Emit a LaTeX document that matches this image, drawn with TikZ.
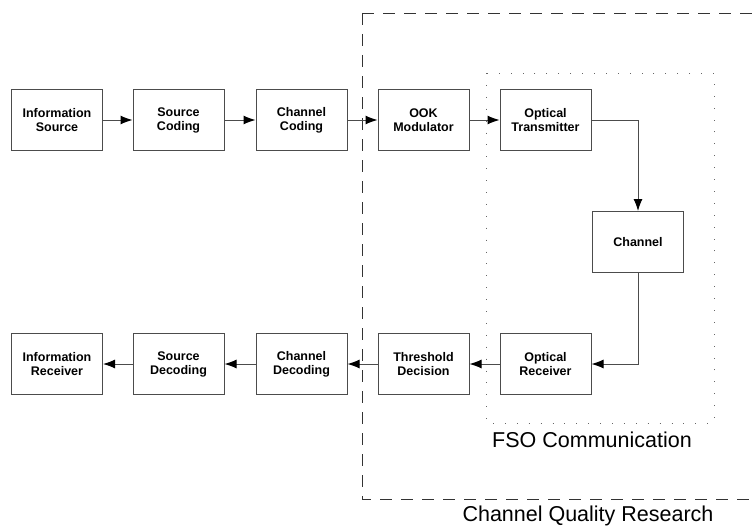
\documentclass[tikz,border=0pt]{standalone}
\usepackage{fontspec}
\setmainfont{Liberation Sans}
\usetikzlibrary{arrows.meta}
\begin{document}
\begin{tikzpicture}[x=1pt,y=-1pt,
  blk/.style={draw=black!70, line width=1pt, minimum width=91pt, minimum height=61pt, inner sep=0pt, align=center, font=\bfseries\fontsize{12.5}{14}\selectfont},
  conn/.style={draw=black!70, line width=1pt, -{Latex[length=12pt,width=9pt,fill=black,color=black]}},
  lbl/.style={font=\fontsize{21.5}{23}\selectfont, inner sep=0pt}]
\useasboundingbox (0,0) rectangle (754,527);
\begin{scope}
\clip (0,0) rectangle (754,527);
\draw[black!80, line width=0.9pt, dash pattern=on 12pt off 9pt] (362,13) -- (800,13);
\draw[black!80, line width=0.9pt, dash pattern=on 12pt off 9pt] (362,13) -- (362,499) -- (800,499);
\end{scope}
\draw[black!60, line width=0.9pt, dash pattern=on 0.9pt off 11pt] (486,73) rectangle (714,423);
\node[lbl] (fso) at (592,440) {FSO Communication};
\node[lbl] (cqr) at (588,516) {Channel Quality Research};
\node[blk] (is) at (57,120) {Information\\Source};
\node[blk] (sc) at (178.5,120) {Source\\Coding};
\node[blk] (cc) at (301.5,120) {Channel\\Coding};
\node[blk] (ook) at (423.5,120) {OOK\\Modulator};
\node[blk] (ot) at (545.5,120) {Optical\\Transmitter};
\node[blk] (ch) at (638,242) {Channel};
\node[blk] (ir) at (57,364) {Information\\Receiver};
\node[blk] (sd) at (178.5,364) {Source\\Decoding};
\node[blk] (cd) at (301.5,364) {Channel\\Decoding};
\node[blk] (td) at (423.5,364) {Threshold\\Decision};
\node[blk] (or) at (545.5,364) {Optical\\Receiver};
\draw[conn] (is) -- (sc);
\draw[conn] (sc) -- (cc);
\draw[conn] (cc) -- (ook);
\draw[conn] (ook) -- (ot);
\draw[conn] (ot.east) -| (ch.north);
\draw[conn] (ch.south) |- (or.east);
\draw[conn] (or) -- (td);
\draw[conn] (td) -- (cd);
\draw[conn] (cd) -- (sd);
\draw[conn] (sd) -- (ir);
\end{tikzpicture}
\end{document}
